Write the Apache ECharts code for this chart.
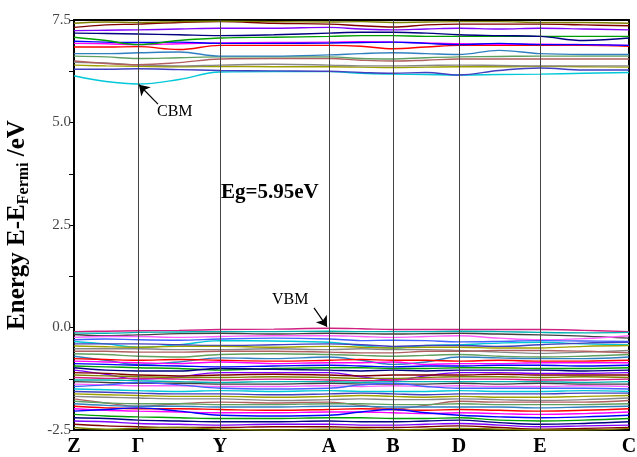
<!DOCTYPE html>
<html>
<head>
<meta charset="utf-8">
<script src="https://cdn.jsdelivr.net/npm/echarts@6/dist/echarts.min.js"></script>
<style>
html,body{margin:0;padding:0;background:#fff;}
#chart{width:637px;height:457px;}
</style>
</head>
<body>
<div id="chart"></div>
<script>
// k 路径 (高对称点 + 中点)
var kpath = [0, 32, 64, 105, 146, 200, 255, 287, 319, 352, 385, 425, 466, 510, 555];
var kTicks = [0, 64, 146, 255, 319, 385, 466, 555];
var kLabels = ['Z', 'Γ', 'Y', 'A', 'B', 'D', 'E', 'C'];

// 导带
var cBands = [
    [6.14, 6.00, 5.94, 6.05, 6.23, 6.24, 6.24, 6.20, 6.18, 6.17, 6.16, 6.17, 6.18, 6.20, 6.22],
    [6.30, 6.30, 6.31, 6.29, 6.27, 6.26, 6.25, 6.22, 6.20, 6.22, 6.16, 6.27, 6.33, 6.28, 6.28],
    [6.40, 6.38, 6.37, 6.36, 6.37, 6.36, 6.36, 6.35, 6.34, 6.35, 6.36, 6.36, 6.37, 6.36, 6.35],
    [6.47, 6.45, 6.40, 6.38, 6.40, 6.42, 6.40, 6.38, 6.38, 6.39, 6.40, 6.39, 6.38, 6.38, 6.38],
    [6.50, 6.44, 6.41, 6.46, 6.55, 6.56, 6.56, 6.52, 6.50, 6.52, 6.55, 6.55, 6.55, 6.55, 6.55],
    [6.62, 6.60, 6.56, 6.58, 6.60, 6.60, 6.60, 6.56, 6.55, 6.58, 6.60, 6.61, 6.62, 6.62, 6.62],
    [6.68, 6.68, 6.70, 6.72, 6.62, 6.62, 6.65, 6.68, 6.70, 6.68, 6.66, 6.76, 6.68, 6.66, 6.66],
    [6.84, 6.84, 6.85, 6.78, 6.88, 6.88, 6.88, 6.86, 6.80, 6.84, 6.88, 6.88, 6.88, 6.88, 6.86],
    [6.93, 6.92, 6.90, 6.92, 6.94, 6.95, 6.96, 6.97, 6.96, 6.94, 6.92, 6.91, 6.91, 6.90, 6.88],
    [6.98, 6.96, 6.95, 6.96, 6.93, 6.93, 6.94, 6.95, 6.96, 6.93, 6.90, 6.93, 6.90, 6.90, 6.88],
    [7.08, 7.00, 6.90, 7.00, 7.06, 7.08, 7.10, 7.12, 7.12, 7.10, 7.10, 7.10, 7.10, 7.10, 7.10],
    [7.18, 7.17, 7.16, 7.14, 7.12, 7.14, 7.18, 7.20, 7.20, 7.18, 7.14, 7.12, 7.10, 7.00, 7.06],
    [7.24, 7.25, 7.26, 7.28, 7.30, 7.30, 7.32, 7.28, 7.26, 7.28, 7.30, 7.28, 7.30, 7.28, 7.26],
    [7.32, 7.38, 7.40, 7.44, 7.46, 7.42, 7.40, 7.36, 7.33, 7.38, 7.40, 7.40, 7.40, 7.38, 7.36],
    [7.42, 7.45, 7.44, 7.46, 7.47, 7.46, 7.45, 7.46, 7.44, 7.45, 7.46, 7.46, 7.44, 7.44, 7.42]
];

// 价带
var vBands = [
    [-0.10, -0.09, -0.08, -0.07, -0.05, -0.04, -0.02, -0.03, -0.05, -0.05, -0.05, -0.05, -0.05, -0.07, -0.10],
    [-0.13, -0.14, -0.12, -0.11, -0.10, -0.10, -0.09, -0.10, -0.10, -0.10, -0.09, -0.10, -0.12, -0.13, -0.12],
    [-0.17, -0.20, -0.18, -0.15, -0.14, -0.16, -0.14, -0.15, -0.16, -0.15, -0.14, -0.16, -0.18, -0.21, -0.26],
    [-0.24, -0.22, -0.22, -0.24, -0.22, -0.20, -0.20, -0.22, -0.24, -0.22, -0.20, -0.26, -0.30, -0.27, -0.20],
    [-0.30, -0.28, -0.30, -0.31, -0.28, -0.26, -0.28, -0.32, -0.31, -0.32, -0.35, -0.34, -0.32, -0.33, -0.34],
    [-0.34, -0.40, -0.48, -0.42, -0.32, -0.33, -0.36, -0.44, -0.50, -0.44, -0.42, -0.38, -0.36, -0.40, -0.42],
    [-0.40, -0.40, -0.40, -0.42, -0.44, -0.42, -0.40, -0.42, -0.46, -0.44, -0.44, -0.46, -0.42, -0.38, -0.36],
    [-0.45, -0.47, -0.48, -0.46, -0.46, -0.48, -0.46, -0.48, -0.50, -0.48, -0.48, -0.50, -0.50, -0.46, -0.44],
    [-0.52, -0.52, -0.52, -0.54, -0.54, -0.52, -0.54, -0.52, -0.54, -0.54, -0.56, -0.60, -0.63, -0.60, -0.56],
    [-0.58, -0.58, -0.60, -0.60, -0.58, -0.58, -0.60, -0.62, -0.62, -0.58, -0.58, -0.56, -0.56, -0.58, -0.62],
    [-0.64, -0.66, -0.70, -0.72, -0.66, -0.64, -0.66, -0.68, -0.70, -0.68, -0.66, -0.70, -0.72, -0.70, -0.66],
    [-0.70, -0.80, -0.90, -0.84, -0.74, -0.76, -0.72, -0.80, -0.90, -0.84, -0.72, -0.74, -0.76, -0.76, -0.72],
    [-0.76, -0.78, -0.80, -0.78, -0.80, -0.82, -0.80, -0.78, -0.80, -0.80, -0.82, -0.80, -0.82, -0.82, -0.80],
    [-0.82, -0.84, -0.86, -0.88, -0.84, -0.88, -0.86, -0.86, -0.84, -0.90, -0.88, -0.88, -0.86, -0.86, -0.86],
    [-0.88, -0.90, -0.92, -0.94, -0.96, -0.94, -0.92, -0.94, -0.96, -0.94, -0.94, -0.92, -0.92, -0.94, -0.92],
    [-0.94, -0.96, -0.98, -1.00, -1.04, -1.00, -0.98, -0.98, -1.00, -1.00, -0.98, -0.98, -1.00, -1.00, -0.98],
    [-0.98, -1.04, -1.06, -1.06, -1.00, -1.02, -1.04, -1.06, -1.04, -1.06, -1.04, -1.04, -1.04, -1.06, -1.04],
    [-1.04, -1.14, -1.26, -1.20, -1.10, -1.10, -1.10, -1.20, -1.28, -1.18, -1.10, -1.10, -1.12, -1.12, -1.10],
    [-1.10, -1.12, -1.16, -1.18, -1.16, -1.14, -1.16, -1.18, -1.16, -1.16, -1.16, -1.14, -1.16, -1.16, -1.16],
    [-1.16, -1.18, -1.20, -1.22, -1.22, -1.20, -1.22, -1.24, -1.24, -1.22, -1.20, -1.20, -1.22, -1.20, -1.22],
    [-1.22, -1.24, -1.24, -1.26, -1.28, -1.26, -1.28, -1.30, -1.28, -1.26, -1.26, -1.26, -1.28, -1.28, -1.26],
    [-1.28, -1.28, -1.30, -1.32, -1.34, -1.32, -1.32, -1.34, -1.32, -1.32, -1.32, -1.32, -1.32, -1.34, -1.32],
    [-1.32, -1.34, -1.36, -1.36, -1.38, -1.38, -1.36, -1.38, -1.38, -1.38, -1.36, -1.38, -1.36, -1.38, -1.38],
    [-1.38, -1.40, -1.42, -1.42, -1.44, -1.44, -1.42, -1.44, -1.42, -1.44, -1.42, -1.44, -1.44, -1.42, -1.44],
    [-1.44, -1.40, -1.34, -1.40, -1.48, -1.50, -1.48, -1.40, -1.36, -1.44, -1.48, -1.48, -1.48, -1.48, -1.50],
    [-1.50, -1.52, -1.54, -1.56, -1.54, -1.56, -1.54, -1.56, -1.56, -1.56, -1.54, -1.56, -1.56, -1.54, -1.56],
    [-1.56, -1.58, -1.60, -1.62, -1.62, -1.64, -1.62, -1.60, -1.62, -1.64, -1.62, -1.62, -1.62, -1.60, -1.60],
    [-1.62, -1.64, -1.66, -1.68, -1.68, -1.70, -1.68, -1.66, -1.68, -1.70, -1.68, -1.70, -1.70, -1.68, -1.66],
    [-1.68, -1.70, -1.72, -1.74, -1.74, -1.78, -1.76, -1.74, -1.76, -1.76, -1.74, -1.76, -1.78, -1.76, -1.72],
    [-1.74, -1.84, -1.92, -1.86, -1.82, -1.84, -1.82, -1.90, -1.98, -1.90, -1.80, -1.82, -1.82, -1.82, -1.78],
    [-1.80, -1.84, -1.86, -1.86, -1.88, -1.88, -1.86, -1.86, -1.88, -1.88, -1.86, -1.88, -1.88, -1.88, -1.86],
    [-1.86, -1.90, -1.92, -1.92, -1.94, -1.94, -1.92, -1.92, -1.94, -1.94, -1.94, -1.94, -1.96, -1.94, -1.92],
    [-1.92, -1.96, -1.98, -1.98, -2.00, -2.02, -2.00, -1.98, -2.00, -2.02, -2.00, -2.02, -2.04, -2.02, -1.98],
    [-1.98, -2.02, -2.04, -2.06, -2.08, -2.08, -2.06, -2.06, -2.08, -2.10, -2.08, -2.10, -2.12, -2.10, -2.06],
    [-2.04, -2.00, -1.96, -2.04, -2.14, -2.16, -2.14, -2.06, -2.00, -2.08, -2.14, -2.18, -2.20, -2.18, -2.14],
    [-2.12, -2.16, -2.18, -2.20, -2.22, -2.22, -2.20, -2.20, -2.22, -2.22, -2.20, -2.26, -2.28, -2.26, -2.22],
    [-2.20, -2.22, -2.26, -2.28, -2.30, -2.30, -2.28, -2.30, -2.30, -2.28, -2.26, -2.32, -2.36, -2.34, -2.30],
    [-2.28, -2.30, -2.34, -2.36, -2.38, -2.36, -2.36, -2.38, -2.38, -2.36, -2.34, -2.38, -2.42, -2.40, -2.38],
    [-2.36, -2.40, -2.42, -2.44, -2.44, -2.42, -2.42, -2.44, -2.44, -2.42, -2.40, -2.44, -2.48, -2.46, -2.44],
    [-2.44, -2.48, -2.46, -2.44, -2.48, -2.50, -2.48, -2.48, -2.50, -2.48, -2.46, -2.48, -2.50, -2.50, -2.46]
];

// 颜色 (Origin 风格)
var palette = ['#00c8d8', '#4040c0', '#a0a000', '#888888', '#b06060', '#60a060', '#3080c0', '#ff0000',
    '#ff00ff', '#0000ff', '#00a000', '#000080', '#8000ff', '#800000', '#808000', '#d02080',
    '#00b0b0', '#404040', '#ff60ff', '#4060ff'];

var serif = '"Liberation Serif", "Times New Roman", serif';

var chart = echarts.init(document.getElementById('chart'));

var bands = cBands.concat(vBands);
var series = bands.map(function (b, i) {
    return {
        type: 'line',
        data: kpath.map(function (k, j) { return [k, b[j]]; }),
        smooth: 0.4,
        showSymbol: false,
        silent: true,
        clip: true,
        lineStyle: { width: 1.4, color: palette[i % palette.length] },
        z: 2
    };
});

// 高对称点竖线
series.push({
    type: 'line',
    data: [],
    silent: true,
    markLine: {
        silent: true,
        symbol: 'none',
        label: { show: false },
        lineStyle: { color: '#444', width: 1, type: 'solid' },
        data: kTicks.slice(1, -1).map(function (v) { return { xAxis: v }; })
    },
    z: 3
});
// CBM / VBM 箭头
series.push({
    type: 'line',
    data: [],
    silent: true,
    markLine: {
        silent: true,
        symbol: ['none', 'arrow'],
        symbolSize: 10,
        label: { show: false },
        lineStyle: { color: '#000', width: 1.2, type: 'solid' },
        data: [
            [{ coord: [84, 5.45] }, { coord: [65, 5.92] }],
            [{ coord: [240, 0.48] }, { coord: [253, 0.02] }]
        ]
    },
    z: 4
});

chart.setOption({
    backgroundColor: '#fff',
    animation: false,
    grid: { left: 74, right: 8, top: 20, bottom: 27, outerBoundsMode: 'none' },
    xAxis: [{
        type: 'value',
        min: 0,
        max: 555,
        axisLine: { show: true, onZero: false, lineStyle: { color: '#000', width: 2 } },
        axisTick: { show: false },
        splitLine: { show: false },
        axisLabel: {
            customValues: kTicks,
            formatter: function (v) { return kLabels[kTicks.indexOf(v)]; },
            fontFamily: serif,
            fontWeight: 'bold',
            fontSize: 20,
            color: '#000',
            margin: 7
        }
    }, {
        type: 'value',
        position: 'top',
        min: 0,
        max: 555,
        axisLine: { show: true, onZero: false, lineStyle: { color: '#000', width: 2 } },
        axisTick: { show: false },
        axisLabel: { show: false },
        splitLine: { show: false }
    }],
    yAxis: [{
        type: 'value',
        min: -2.5,
        max: 7.5,
        interval: 2.5,
        axisLine: { show: true, onZero: false, lineStyle: { color: '#000', width: 2 } },
        axisTick: { show: true, inside: false, length: 5, lineStyle: { color: '#000', width: 1 } },
        minorTick: { show: true, splitNumber: 2, length: 5, lineStyle: { color: '#000', width: 1 } },
        splitLine: { show: false },
        axisLabel: {
            formatter: function (v) { return v.toFixed(1); },
            fontFamily: serif,
            fontSize: 15,
            color: '#444',
            margin: 3
        },
        name: '{b|Energy E-E}{s|Fermi}{b| /eV}',
        nameLocation: 'middle',
        nameRotate: 90,
        nameGap: 42,
        nameTextStyle: {
            rich: {
                b: { fontFamily: serif, fontWeight: 'bold', fontSize: 25, color: '#000' },
                s: { fontFamily: serif, fontWeight: 'bold', fontSize: 16, color: '#000', padding: [13, 0, 0, 0] }
            }
        }
    }, {
        type: 'value',
        position: 'right',
        min: -2.5,
        max: 7.5,
        axisLine: { show: true, onZero: false, lineStyle: { color: '#000', width: 2 } },
        axisTick: { show: false },
        axisLabel: { show: false },
        splitLine: { show: false }
    }],
    graphic: [
        { type: 'text', left: 157, top: 104, style: { text: 'CBM', font: '16px ' + serif, fill: '#000' } },
        { type: 'text', left: 272, top: 292, style: { text: 'VBM', font: '16px ' + serif, fill: '#000' } },
        { type: 'text', left: 221, top: 182, style: { text: 'Eg=5.95eV', font: 'bold 21px ' + serif, fill: '#000' } }
    ],
    series: series
});
</script>
</body>
</html>
